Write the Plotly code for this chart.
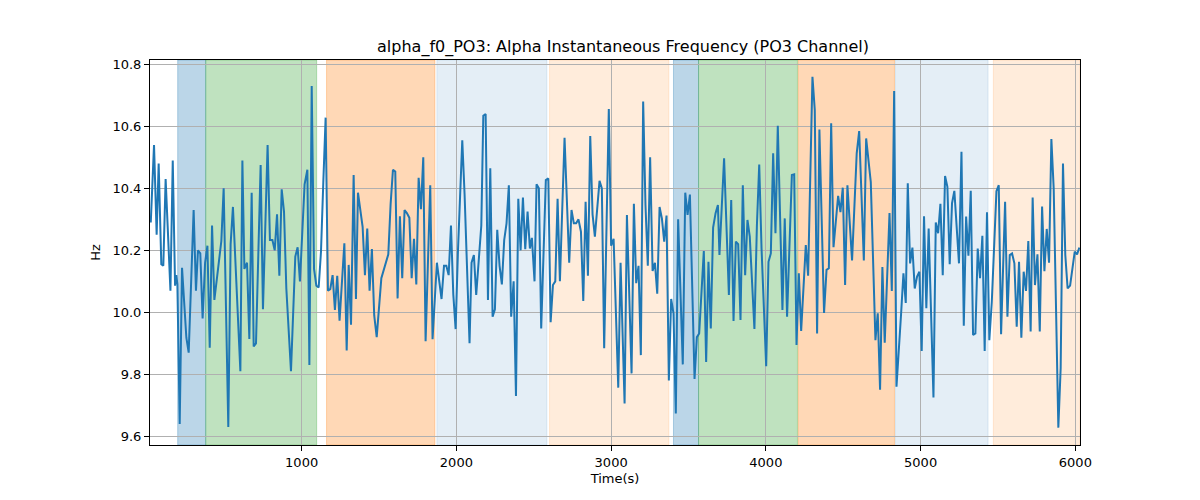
import plotly.graph_objects as go

# ---- data ----
times = [25, 46, 63, 76, 93, 106, 121, 152, 167, 182, 190, 197, 212, 227, 255, 270, 302, 317, 330, 345,
         360, 376, 391, 406, 421, 436, 481, 496, 526, 541, 556, 604, 617, 630,
         647, 662, 677, 690, 705, 735, 750, 780, 795, 811, 826, 841, 856, 871, 886, 901, 931, 959, 974, 989,
         1019, 1037, 1050, 1065, 1080, 1095, 1110, 1125, 1140, 1155, 1170, 1185, 1200, 1215, 1230,
         1245, 1276, 1291, 1304, 1319, 1336, 1351, 1364, 1394, 1409, 1424, 1439, 1454, 1469, 1485, 1515,
         1560, 1575, 1590, 1605, 1620, 1635, 1650, 1665, 1680, 1696, 1711, 1726, 1741, 1756, 1771, 1786,
         1801, 1831, 1846,
         1874, 1904, 1920, 1935, 1950, 1965, 1980, 1995, 2010, 2038, 2053, 2068, 2085, 2098, 2113, 2128,
         2146, 2161, 2174, 2189, 2204, 2219, 2234, 2249, 2264, 2279, 2294, 2309, 2324, 2339, 2354, 2370,
         2385, 2400, 2415, 2430, 2445, 2460,
         2475, 2488, 2505, 2518, 2533, 2548, 2578, 2594, 2609, 2624, 2639, 2654, 2669, 2699, 2729, 2744,
         2759, 2774, 2789, 2805, 2820, 2835, 2850, 2865, 2880, 2895, 2925, 2940, 2955, 2985, 3000, 3016,
         3046, 3061,
         3087, 3102, 3132, 3147, 3162, 3177, 3192, 3207, 3222, 3237, 3252, 3268, 3283, 3298, 3313, 3328,
         3343, 3358, 3373, 3388, 3403, 3418, 3433, 3463, 3479, 3494, 3509, 3539, 3554, 3569, 3599, 3614,
         3629, 3644, 3659, 3675, 3690,
         3700, 3730, 3761, 3776, 3791, 3806, 3821, 3836, 3851, 3866, 3881, 3896, 3911, 3926, 3942, 3957,
         3972, 4002, 4017, 4032, 4047, 4062, 4077, 4107, 4122, 4137, 4168, 4183, 4198, 4213, 4228, 4258,
         4273, 4301,
         4316, 4331, 4346, 4376, 4392, 4407, 4422, 4437, 4467, 4482, 4497, 4512, 4527, 4557, 4587, 4603,
         4633, 4648, 4678, 4708, 4723, 4738, 4753, 4768, 4799, 4814, 4829, 4844, 4874, 4889, 4904, 4917,
         4932, 4947, 4962, 4977, 4992, 5007, 5022, 5037, 5052, 5083, 5098, 5113, 5128, 5143, 5158, 5173,
         5188, 5203, 5218, 5248, 5264, 5279, 5294, 5309, 5324, 5339, 5354, 5369, 5384, 5399, 5414, 5429,
         5444, 5460, 5490, 5505, 5520,
         5546, 5561, 5576, 5591, 5606, 5621, 5636, 5651, 5666, 5681, 5696, 5711, 5724, 5739, 5755, 5770,
         5785, 5800, 5815, 5830, 5845, 5860, 5890, 5905, 5920, 5935, 5950, 5966, 5981, 5996, 6011, 6026]

freq_hz = [10.29, 10.54, 10.25, 10.48, 10.155, 10.15, 10.43, 10.07, 10.49, 10.086, 10.12, 10.09, 9.64, 10.144,
           9.918, 9.87, 10.33, 10.07, 10.20, 10.19, 9.98, 10.16, 10.215, 9.886, 10.28, 10.04, 10.23, 10.40,
           9.63, 10.22, 10.34, 9.81, 10.49, 10.14,
           10.16, 9.914, 10.386, 9.89, 9.90, 10.475, 10.01, 10.54, 10.233, 10.233, 10.20, 10.316, 10.118,
           10.397, 10.325, 10.077, 9.81, 10.18, 10.21, 10.10, 10.413, 10.46, 9.83, 10.73, 10.14, 10.086,
           10.08, 10.196, 10.42, 10.628, 10.07, 10.075, 10.12, 10.008, 10.118,
           9.973, 10.223, 9.877, 10.153, 9.96, 10.443, 10.043, 10.386, 10.276, 10.12, 10.27, 10.07, 10.204,
           9.99, 9.92, 10.11, 10.187, 10.35, 10.46, 10.454, 10.045, 10.31, 10.11, 10.33, 10.32, 10.305,
           10.11, 10.237, 10.09, 10.434, 10.333, 10.50, 9.907, 10.41, 9.913,
           10.16, 10.043, 10.15, 10.15, 10.12, 10.28, 10.058, 9.946, 10.196, 10.555, 10.38, 10.13, 9.90,
           10.16, 10.185, 10.056, 10.196, 10.28, 10.634, 10.64, 10.04, 10.465, 9.986, 10.01, 10.266, 10.15,
           10.09, 10.233, 10.287, 10.41, 9.986, 10.10, 9.73, 10.366, 10.20, 10.37, 10.204, 10.325,
           10.206, 10.24, 10.10, 10.413, 10.40, 9.948, 10.427, 10.432, 9.968, 10.088, 10.10, 10.366, 10.10,
           10.563, 10.16, 10.33, 10.287, 10.287, 10.30, 10.26, 10.037, 10.357, 10.118, 10.569, 10.316,
           10.244, 10.424, 10.40, 9.884, 10.656, 10.215, 10.237, 9.757, 10.16,
           9.706, 10.314, 9.803, 10.35, 10.094, 10.15, 9.862, 10.68, 10.346, 10.15, 10.50, 10.133, 10.16,
           10.06, 10.34, 10.303, 10.228, 10.312, 9.78, 10.043, 9.997, 9.674, 10.30, 9.832, 10.386, 10.314,
           10.38, 9.785, 9.92, 9.932, 10.198, 9.84, 10.163, 9.948, 10.273, 10.32, 10.346,
           10.185, 10.497, 10.056, 10.362, 9.972, 10.228, 10.22, 9.975, 10.41, 10.12, 10.298, 10.244,
           10.115, 9.946, 10.28, 10.477, 10.206, 9.826, 10.163, 10.19, 10.513, 10.255, 10.602, 10.008,
           10.303, 9.986, 10.443, 10.445, 9.895, 10.126, 9.94, 10.217, 10.118, 10.76,
           10.653, 9.932, 10.59, 9.998, 10.137, 10.142, 10.61, 10.21, 10.376, 10.323, 10.402, 10.088,
           10.41, 10.167, 10.513, 10.585, 10.167, 10.561, 10.42, 9.91, 9.997, 9.75, 10.146, 9.902, 10.32,
           10.069, 10.714, 9.76, 9.997, 10.126, 10.03, 10.416,
           10.158, 10.209, 10.077, 10.115, 10.131, 9.875, 10.31, 10.013, 10.27, 9.725, 10.29, 10.255,
           10.35, 10.12, 10.44, 10.405, 10.155, 10.352, 10.392, 10.158, 10.518, 9.957, 10.309, 10.183,
           10.392, 9.927, 9.932, 10.206, 10.11, 10.247, 9.875, 10.323, 9.91, 10.034, 10.391, 10.41, 9.929,
           10.357, 9.986, 10.185, 10.19, 10.158, 9.954, 10.163, 9.918, 10.131, 10.069, 10.23, 9.938,
           10.37, 10.088, 10.187, 9.938, 10.341, 10.133, 10.269, 10.16, 10.559, 10.40, 9.628, 9.82,
           10.48, 10.185, 10.077, 10.086, 10.142, 10.196, 10.187, 10.209]

band_starts = [199, 380, 1161, 1874, 2602, 3403, 3565, 4209, 4837, 5470]
band_ends = [380, 1097, 1861, 2585, 3373, 3565, 4204, 4831, 5436, 6030]
band_colors = ["rgba(31,119,180,0.3)", "rgba(44,160,44,0.3)", "rgba(255,127,14,0.3)",
               "rgba(31,119,180,0.12)", "rgba(255,127,14,0.15)",
               "rgba(31,119,180,0.3)", "rgba(44,160,44,0.3)", "rgba(255,127,14,0.3)",
               "rgba(31,119,180,0.12)", "rgba(255,127,14,0.15)"]

x_ticks = [1000, 2000, 3000, 4000, 5000, 6000]
y_ticks = [9.6, 9.8, 10.0, 10.2, 10.4, 10.6, 10.8]

fig = go.Figure()

for s, e, c in zip(band_starts, band_ends, band_colors):
    fig.add_vrect(x0=s, x1=e, fillcolor=c, line=dict(color=c, width=1), layer="below")

fig.add_trace(go.Scatter(x=times, y=freq_hz, mode="lines",
                         line=dict(color="#1f77b4", width=2), showlegend=False))

axis_common = dict(showline=True, linecolor="black", linewidth=1, mirror=True,
                   ticks="outside", ticklen=5, tickwidth=1, tickcolor="black",
                   showgrid=True, gridcolor="#b0b0b0", gridwidth=1, zeroline=False,
                   tickfont=dict(family="DejaVu Sans", size=13, color="black"))

fig.update_layout(
    width=1200, height=500,
    margin=dict(l=142, r=128, t=52, b=63),
    paper_bgcolor="white", plot_bgcolor="white",
    title=dict(text="alpha_f0_PO3: Alpha Instantaneous Frequency (PO3 Channel)",
               x=0.5125, xanchor="center", y=0.924, yanchor="middle",
               font=dict(family="DejaVu Sans", size=16, color="black")),
    xaxis=dict(range=[20, 6030], tickvals=x_ticks,
               title=dict(text="Time(s)", font=dict(family="DejaVu Sans", size=13, color="black"), standoff=5),
               **axis_common),
    yaxis=dict(range=[9.572, 10.814], tickvals=y_ticks, tickformat=".1f",
               title=dict(text="Hz", font=dict(family="DejaVu Sans", size=13, color="black"), standoff=8),
               **axis_common),
)

fig.write_html("out.html")
